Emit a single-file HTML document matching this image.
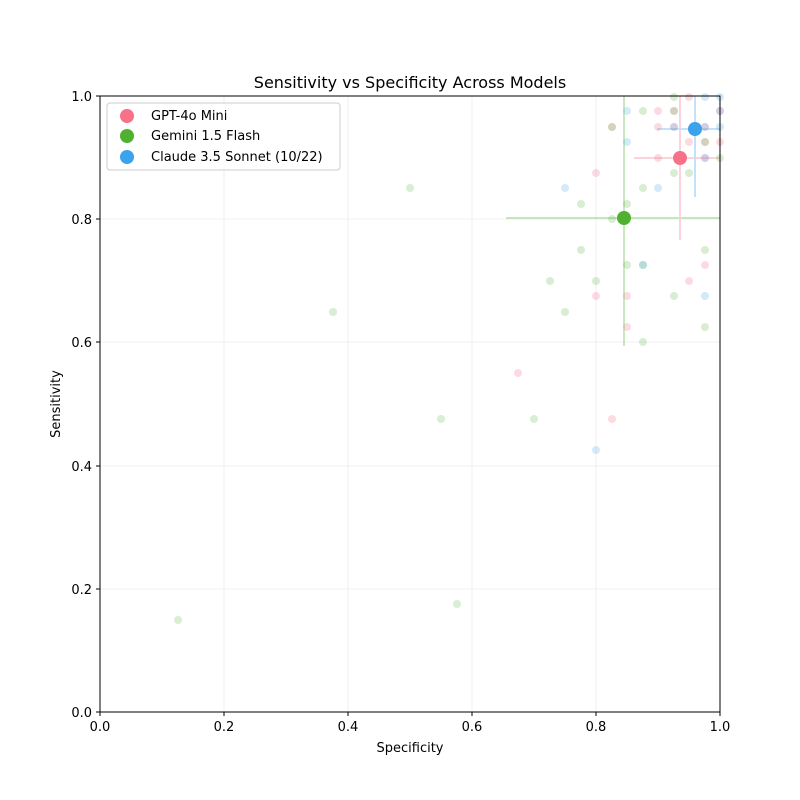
<!DOCTYPE html>
<html><head><style>body{margin:0;background:#fff}svg{display:block}</style></head><body>
<svg width="800" height="800" xmlns="http://www.w3.org/2000/svg" font-family="'DejaVu Sans','Liberation Sans',sans-serif">
<rect width="800" height="800" fill="#fff"/>
<g stroke="#ebebeb" stroke-width="0.8">
<line x1="100" y1="96" x2="100" y2="712"/><line x1="224" y1="96" x2="224" y2="712"/><line x1="348" y1="96" x2="348" y2="712"/><line x1="472" y1="96" x2="472" y2="712"/><line x1="596" y1="96" x2="596" y2="712"/><line x1="720" y1="96" x2="720" y2="712"/>
<line x1="100" y1="712" x2="720" y2="712"/><line x1="100" y1="589" x2="720" y2="589"/><line x1="100" y1="466" x2="720" y2="466"/><line x1="100" y1="342" x2="720" y2="342"/><line x1="100" y1="219" x2="720" y2="219"/><line x1="100" y1="96" x2="720" y2="96"/>
</g>
<g stroke-width="2" opacity="0.3">
<line x1="506" y1="218" x2="720" y2="218" stroke="#50b131"/><line x1="624" y1="96" x2="624" y2="346" stroke="#50b131"/>
<line x1="634" y1="158" x2="720" y2="158" stroke="#f77189"/><line x1="680" y1="96" x2="680" y2="240" stroke="#f77189"/>
<line x1="657" y1="129" x2="720" y2="129" stroke="#3ba3ec"/><line x1="695" y1="96" x2="695" y2="197" stroke="#3ba3ec"/>
</g>
<g fill="#f77189" opacity="0.25">
<circle cx="596" cy="173" r="4"/><circle cx="612" cy="419" r="4"/><circle cx="518" cy="373" r="4"/><circle cx="596" cy="296" r="4"/><circle cx="627" cy="296" r="4"/><circle cx="627" cy="327" r="4"/><circle cx="689" cy="281" r="4"/><circle cx="705" cy="265" r="4"/><circle cx="689" cy="97" r="4"/><circle cx="658" cy="111" r="4"/><circle cx="658" cy="127" r="4"/><circle cx="689" cy="142" r="4"/><circle cx="720" cy="142" r="4"/><circle cx="658" cy="158" r="4"/><circle cx="674" cy="127" r="4"/><circle cx="705" cy="142" r="4"/><circle cx="674" cy="111" r="4"/><circle cx="705" cy="127" r="4"/><circle cx="612" cy="127" r="4"/><circle cx="705" cy="158" r="4"/><circle cx="720" cy="111" r="4"/>
</g>
<g fill="#50b131" opacity="0.22">
<circle cx="178" cy="620" r="4"/><circle cx="333" cy="312" r="4"/><circle cx="410" cy="188" r="4"/><circle cx="441" cy="419" r="4"/><circle cx="457" cy="604" r="4"/><circle cx="534" cy="419" r="4"/><circle cx="550" cy="281" r="4"/><circle cx="565" cy="312" r="4"/><circle cx="581" cy="204" r="4"/><circle cx="581" cy="250" r="4"/><circle cx="596" cy="281" r="4"/><circle cx="612" cy="219" r="4"/><circle cx="627" cy="204" r="4"/><circle cx="627" cy="265" r="4"/><circle cx="643" cy="188" r="4"/><circle cx="643" cy="342" r="4"/><circle cx="643" cy="265" r="4"/><circle cx="674" cy="173" r="4"/><circle cx="674" cy="296" r="4"/><circle cx="689" cy="173" r="4"/><circle cx="705" cy="250" r="4"/><circle cx="705" cy="327" r="4"/><circle cx="612" cy="127" r="4"/><circle cx="674" cy="97" r="4"/><circle cx="674" cy="111" r="4"/><circle cx="643" cy="111" r="4"/><circle cx="720" cy="158" r="4"/><circle cx="705" cy="142" r="4"/>
</g>
<g fill="#3ba3ec" opacity="0.22">
<circle cx="565" cy="188" r="4"/><circle cx="596" cy="450" r="4"/><circle cx="627" cy="142" r="4"/><circle cx="627" cy="111" r="4"/><circle cx="658" cy="188" r="4"/><circle cx="705" cy="296" r="4"/><circle cx="674" cy="127" r="4"/><circle cx="720" cy="127" r="4"/><circle cx="705" cy="97" r="4"/><circle cx="720" cy="97" r="4"/><circle cx="643" cy="265" r="4"/><circle cx="705" cy="158" r="4"/><circle cx="720" cy="111" r="4"/><circle cx="705" cy="127" r="4"/>
</g>
<circle cx="624" cy="218" r="7" fill="#50b131"/>
<circle cx="680" cy="158" r="7" fill="#f77189"/>
<circle cx="695" cy="129" r="7" fill="#3ba3ec"/>
<rect x="100" y="96" width="620" height="616" fill="none" stroke="#000" stroke-width="1"/>
<g stroke="#000" stroke-width="1">
<line x1="100" y1="712" x2="100" y2="716"/><line x1="224" y1="712" x2="224" y2="716"/><line x1="348" y1="712" x2="348" y2="716"/><line x1="472" y1="712" x2="472" y2="716"/><line x1="596" y1="712" x2="596" y2="716"/><line x1="720" y1="712" x2="720" y2="716"/>
<line x1="96" y1="712" x2="100" y2="712"/><line x1="96" y1="589" x2="100" y2="589"/><line x1="96" y1="466" x2="100" y2="466"/><line x1="96" y1="342" x2="100" y2="342"/><line x1="96" y1="219" x2="100" y2="219"/><line x1="96" y1="96" x2="100" y2="96"/>
</g>
<g font-size="13" fill="#000" text-anchor="middle">
<text x="100" y="731">0.0</text><text x="224" y="731">0.2</text><text x="348" y="731">0.4</text><text x="472" y="731">0.6</text><text x="596" y="731">0.8</text><text x="720" y="731">1.0</text>
</g>
<g font-size="13" fill="#000" text-anchor="end">
<text x="92" y="717">0.0</text><text x="92" y="594">0.2</text><text x="92" y="471">0.4</text><text x="92" y="347">0.6</text><text x="92" y="224">0.8</text><text x="92" y="101">1.0</text>
</g>
<text x="410" y="752" font-size="13" text-anchor="middle">Specificity</text>
<text transform="translate(60,404) rotate(-90)" font-size="13" text-anchor="middle">Sensitivity</text>
<text x="410" y="88" font-size="16" text-anchor="middle">Sensitivity vs Specificity Across Models</text>
<rect x="107" y="103" width="233" height="67" rx="3" fill="#fff" fill-opacity="0.8" stroke="#ccc"/>
<circle cx="127" cy="116" r="7" fill="#f77189"/><text x="151" y="120" font-size="13">GPT-4o Mini</text>
<circle cx="127" cy="136" r="7" fill="#50b131"/><text x="151" y="140" font-size="13">Gemini 1.5 Flash</text>
<circle cx="127" cy="157" r="7" fill="#3ba3ec"/><text x="151" y="161" font-size="13">Claude 3.5 Sonnet (10/22)</text>
</svg>
</body></html>
